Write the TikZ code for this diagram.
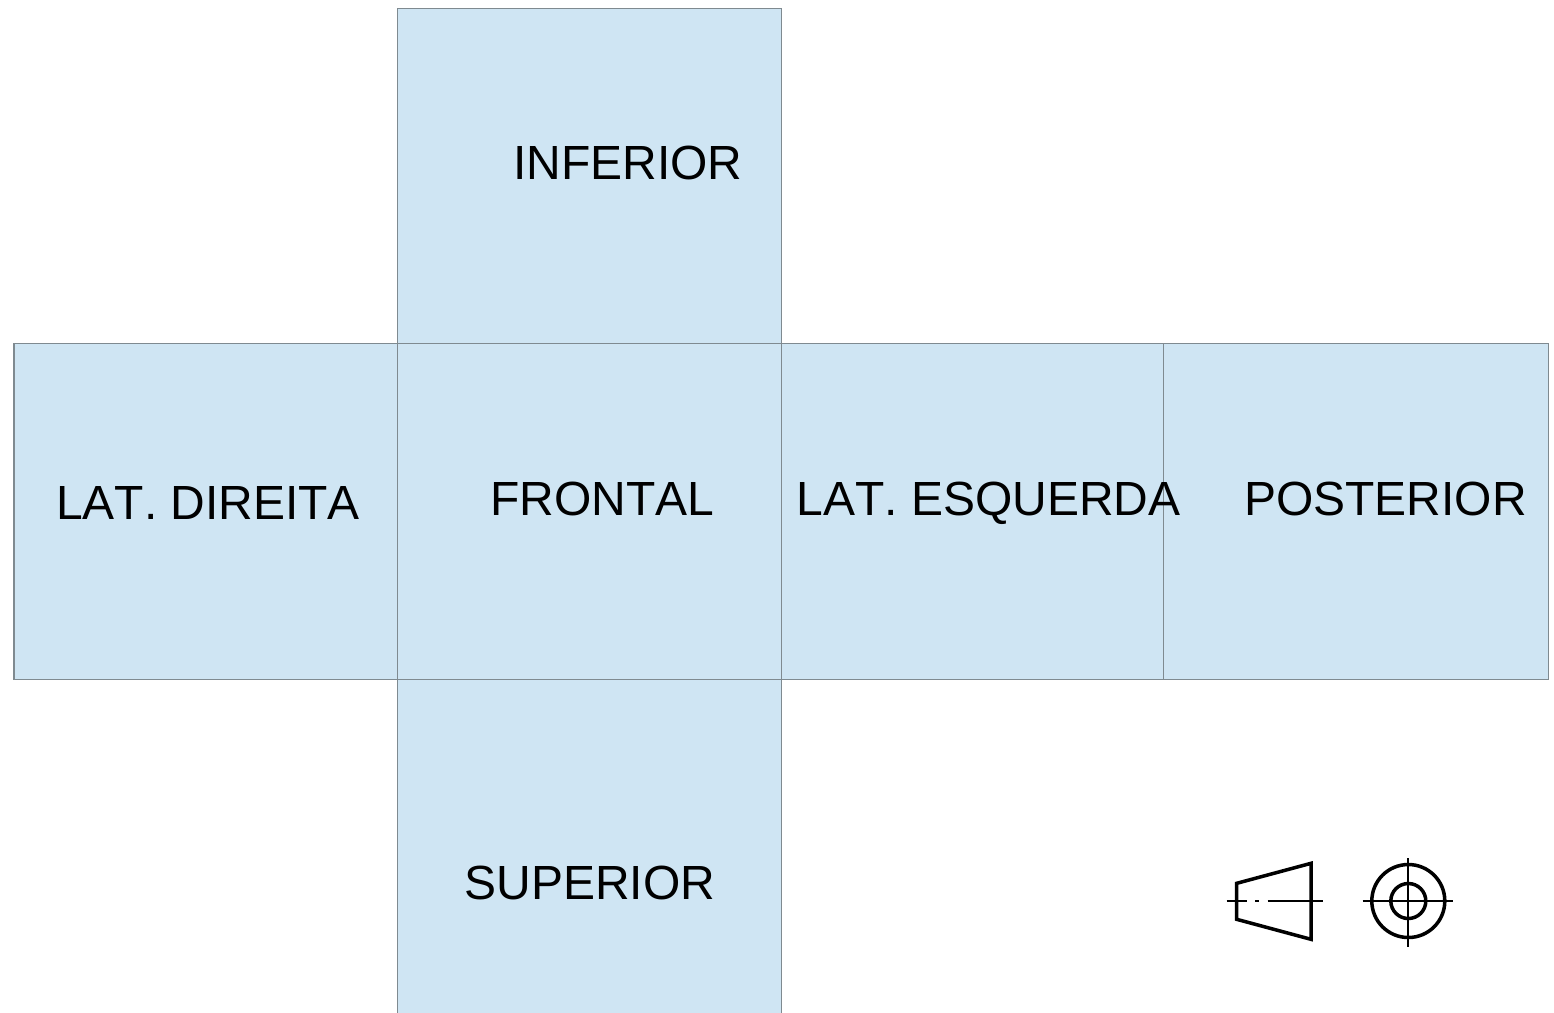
\documentclass[tikz,border=0pt]{standalone}
\usepackage{fontspec}
\setmainfont[Kerning=Off]{Liberation Sans}
\usetikzlibrary{positioning}
\definecolor{facefill}{HTML}{CFE5F3}
\definecolor{faceline}{HTML}{7F8A90}
\tikzset{
  face/.style={draw=faceline, line width=0.6pt, fill=facefill, minimum width=7.68cm, minimum height=6.72cm, inner sep=0pt, outer sep=0pt},
  facelabel/.style={font=\fontsize{27.3}{32}\selectfont, inner sep=0pt, anchor=base},
  symbolline/.style={line width=2pt, line join=miter},
  axisline/.style={line width=1.2pt}
}
\begin{document}
\begin{tikzpicture}[x=0.02cm, y=-0.02cm]
  \useasboundingbox (0,0) rectangle (1554,1012);

  % Faces
  \node[face] (frontal) at (589.9,511.2) {};
  \node[face, minimum height=6.7cm, above=0pt of frontal] (inferior) {};
  \node[face, below=0pt of frontal] (superior) {};
  \node[face, left=0pt of frontal] (direita) {};
  \node[face, minimum width=7.64cm, right=0pt of frontal] (esquerda) {};
  \node[face, minimum width=7.69cm, right=0pt of esquerda] (posterior) {};

  % Nomes das faces
  \node[facelabel] (tinferior) at (628,179.5) {INFERIOR};
  \node[facelabel] (tdireita) at (208,519.5) {LAT. DIREITA};
  \node[facelabel] (tfrontal) at (602.5,515.5) {FRONTAL};
  \node[facelabel] (tesquerda) at (988.5,515.5) {LAT. ESQUERDA};
  \node[facelabel] (tposterior) at (1385.5,515.5) {POSTERIOR};
  \node[facelabel] (tsuperior) at (590,899.5) {SUPERIOR};

  % Simbolo do diedro
  \draw[symbolline] (1236.7,883.3) -- (1311,863.3) -- (1311,939.3) -- (1236.7,919.3) -- cycle;
  \draw[axisline] (1226.7,901) -- (1246.7,901);
  \draw[axisline] (1255,901) -- (1259,901);
  \draw[axisline] (1267.7,901) -- (1322.7,901);

  \draw[symbolline] (1408.3,901) circle (36.5);
  \draw[symbolline] (1408.3,901) circle (17.5);
  \draw[axisline] (1362.7,901) -- (1453.3,901);
  \draw[axisline] (1408.3,858) -- (1408.3,946.7);
\end{tikzpicture}
\end{document}
